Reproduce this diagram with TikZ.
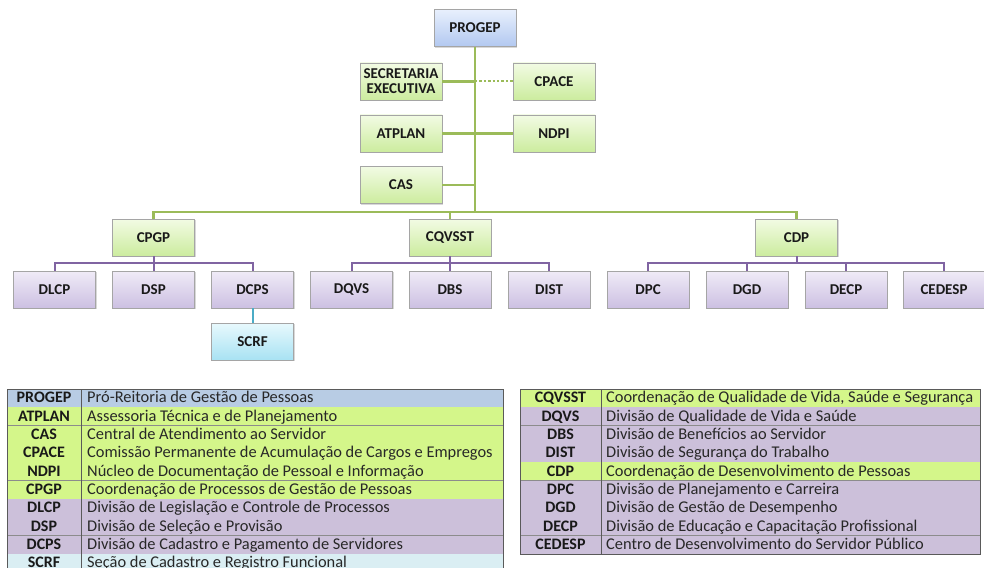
\documentclass[tikz,border=0pt]{standalone}
\usepackage{fontspec}
\setmainfont{Carlito}
\usetikzlibrary{shadows}

\definecolor{greenline}{RGB}{155,187,89}
\definecolor{purpleline}{RGB}{128,100,162}
\definecolor{cyanline}{RGB}{75,172,198}
\definecolor{tblue}{RGB}{184,204,228}
\definecolor{tgreen}{RGB}{212,246,138}
\definecolor{tpurple}{RGB}{204,192,218}
\definecolor{tcyan}{RGB}{218,238,243}
\definecolor{tgrid}{RGB}{140,140,140}
\definecolor{tborder}{RGB}{90,90,90}

\tikzset{
  unit/.style={draw={rgb,255:red,165;green,165;blue,165}, minimum width=82pt, minimum height=37pt,
    inner sep=2pt, align=center, font=\bfseries\fontsize{15}{15}\selectfont, text={rgb,255:red,25;green,25;blue,25},
    drop shadow={opacity=0.3, shadow xshift=1.2pt, shadow yshift=-1.2pt}},
  blueunit/.style={unit, top color={rgb,255:red,232;green,240;blue,253}, bottom color={rgb,255:red,178;green,200;blue,240}},
  greenunit/.style={unit, top color={rgb,255:red,242;green,251;blue,228}, bottom color={rgb,255:red,204;green,236;blue,158}},
  purpleunit/.style={unit, top color={rgb,255:red,240;green,235;blue,247}, bottom color={rgb,255:red,204;green,192;blue,226}},
  cyanunit/.style={unit, top color={rgb,255:red,232;green,249;blue,253}, bottom color={rgb,255:red,168;green,226;blue,243}},
  gline/.style={draw=greenline, line width=2.4pt},
  pline/.style={draw=purpleline, line width=2pt},
  cline/.style={draw=cyanline, line width=2pt},
  abbr/.style={font=\bfseries\fontsize{16}{16}\selectfont, inner sep=0pt, text={rgb,255:red,25;green,25;blue,25}},
  desc/.style={font=\fontsize{16.4}{16.4}\selectfont, inner sep=0pt, anchor=base west, text={rgb,255:red,40;green,40;blue,40}},
}

\begin{document}
\begin{tikzpicture}[x=1pt, y=-1pt]
\clip (0, 0) rectangle (984, 567);
\fill [white] (0, 0) rectangle (984, 567);

% boxes of the chart
\coordinate (hub) at (475, 212);
\node [blueunit] (progep) at (475, 28) {PROGEP};
\node [greenunit] (secex) at (401, 81.5) {SECRETARIA\\EXECUTIVA};
\node [greenunit] (cpace) at (554, 81.5) {CPACE};
\node [greenunit] (atplan) at (401, 133.5) {ATPLAN};
\node [greenunit] (ndpi) at (554, 133.5) {NDPI};
\node [greenunit] (cas) at (401, 185) {CAS};
\node [greenunit] (cpgp) at (153.5, 237.5) {CPGP};
\node [greenunit] (cqvsst) at (450, 237.5) {CQVSST};
\node [greenunit] (cdp) at (796.5, 237.5) {CDP};

\node [purpleunit] (dlcp) at (54.5, 289.5) {DLCP};
\node [purpleunit] (dsp) at (153.5, 289.5) {DSP};
\node [purpleunit] (dcps) at (252.5, 289.5) {DCPS};
\node [purpleunit] (dqvs) at (351.5, 289.5) {DQVS};
\node [purpleunit] (dbs) at (450, 289.5) {DBS};
\node [purpleunit] (dist) at (549, 289.5) {DIST};
\node [purpleunit] (dpc) at (648, 289.5) {DPC};
\node [purpleunit] (dgd) at (747, 289.5) {DGD};
\node [purpleunit] (decp) at (846, 289.5) {DECP};
\node [purpleunit] (cedesp) at (944, 289.5) {CEDESP};
\node [cyanunit] (scrf) at (252.5, 341.5) {SCRF};

% connectors
\draw [gline] (progep.south) -- (hub);
\draw [gline] (secex.east) -- (secex.east -| hub);
\draw [gline, dotted, line width=2pt] (cpace.west -| hub) -- (cpace.west);
\draw [gline] (atplan.east) -- (ndpi.west);
\draw [gline] (cas.east) -- (cas.east -| hub);
\draw [gline] (cpgp.north) |- (hub) -| (cdp.north);
\draw [gline] (cqvsst.north) -- (cqvsst.north |- hub);

\draw [pline] (dlcp.north) -- ++(0, -8) -| (dcps.north);
\draw [pline] (cpgp.south) -- (dsp.north);
\draw [pline] (dqvs.north) -- ++(0, -8) -| (dist.north);
\draw [pline] (cqvsst.south) -- (dbs.north);
\draw [pline] (dpc.north) -- ++(0, -8) -| (cedesp.north);
\draw [pline] (cdp.south) -- ++(0, 7);
\draw [pline] (dgd.north) -- ++(0, -8);
\draw [pline] (decp.north) -- ++(0, -8);
\draw [cline] (dcps.south) -- (scrf.north);

% left table
\foreach \lab/\txt/\col [count=\i] in {
  PROGEP/Pró-Reitoria de Gestão de Pessoas/tblue,
  ATPLAN/Assessoria Técnica e de Planejamento/tgreen,
  CAS/Central de Atendimento ao Servidor/tgreen,
  CPACE/Comissão Permanente de Acumulação de Cargos e Empregos/tgreen,
  NDPI/Núcleo de Documentação de Pessoal e Informação/tgreen,
  CPGP/Coordenação de Processos de Gestão de Pessoas/tgreen,
  DLCP/Divisão de Legislação e Controle de Processos/tpurple,
  DSP/Divisão de Seleção e Provisão/tpurple,
  DCPS/Divisão de Cadastro e Pagamento de Servidores/tpurple,
  SCRF/Seção de Cadastro e Registro Funcional/tcyan} {
  \pgfmathsetmacro\ytop{389+18.33*(\i-1)}
  \pgfmathsetmacro\ybot{389+18.33*\i}
  \fill [\col] (7, \ytop) rectangle (503, \ybot);
  \draw [tgrid, line width=0.7pt] (7, \ybot) -- (503, \ybot);
  \node [abbr, anchor=base] (la\i) at (44, \ybot-4.6) {\lab};
  \node [desc] (ld\i) at (87, \ybot-4.6) {\txt};
}
\draw [tborder, line width=0.9pt] (7, 572) -- (7, 389) -- (503, 389) -- (503, 572);
\draw [tborder, line width=0.9pt] (81, 389) -- (81, 572);

% right table
\foreach \lab/\txt/\col [count=\i] in {
  CQVSST/{Coordenação de Qualidade de Vida, Saúde e Segurança}/tgreen,
  DQVS/Divisão de Qualidade de Vida e Saúde/tpurple,
  DBS/Divisão de Benefícios ao Servidor/tpurple,
  DIST/Divisão de Segurança do Trabalho/tpurple,
  CDP/Coordenação de Desenvolvimento de Pessoas/tgreen,
  DPC/Divisão de Planejamento e Carreira/tpurple,
  DGD/Divisão de Gestão de Desempenho/tpurple,
  DECP/Divisão de Educação e Capacitação Profissional/tpurple,
  CEDESP/Centro de Desenvolvimento do Servidor Público/tpurple} {
  \pgfmathsetmacro\ytop{389+18.33*(\i-1)}
  \pgfmathsetmacro\ybot{389+18.33*\i}
  \fill [\col] (520, \ytop) rectangle (980, \ybot);
  \draw [tgrid, line width=0.7pt] (520, \ybot) -- (980, \ybot);
  \node [abbr, anchor=base] (ra\i) at (560.5, \ybot-4.6) {\lab};
  \node [desc] (rd\i) at (606, \ybot-4.6) {\txt};
}
\draw [tborder, line width=0.9pt] (520, 389) rectangle (980, 554);
\draw [tborder, line width=0.9pt] (601, 389) -- (601, 554);
\end{tikzpicture}
\end{document}
